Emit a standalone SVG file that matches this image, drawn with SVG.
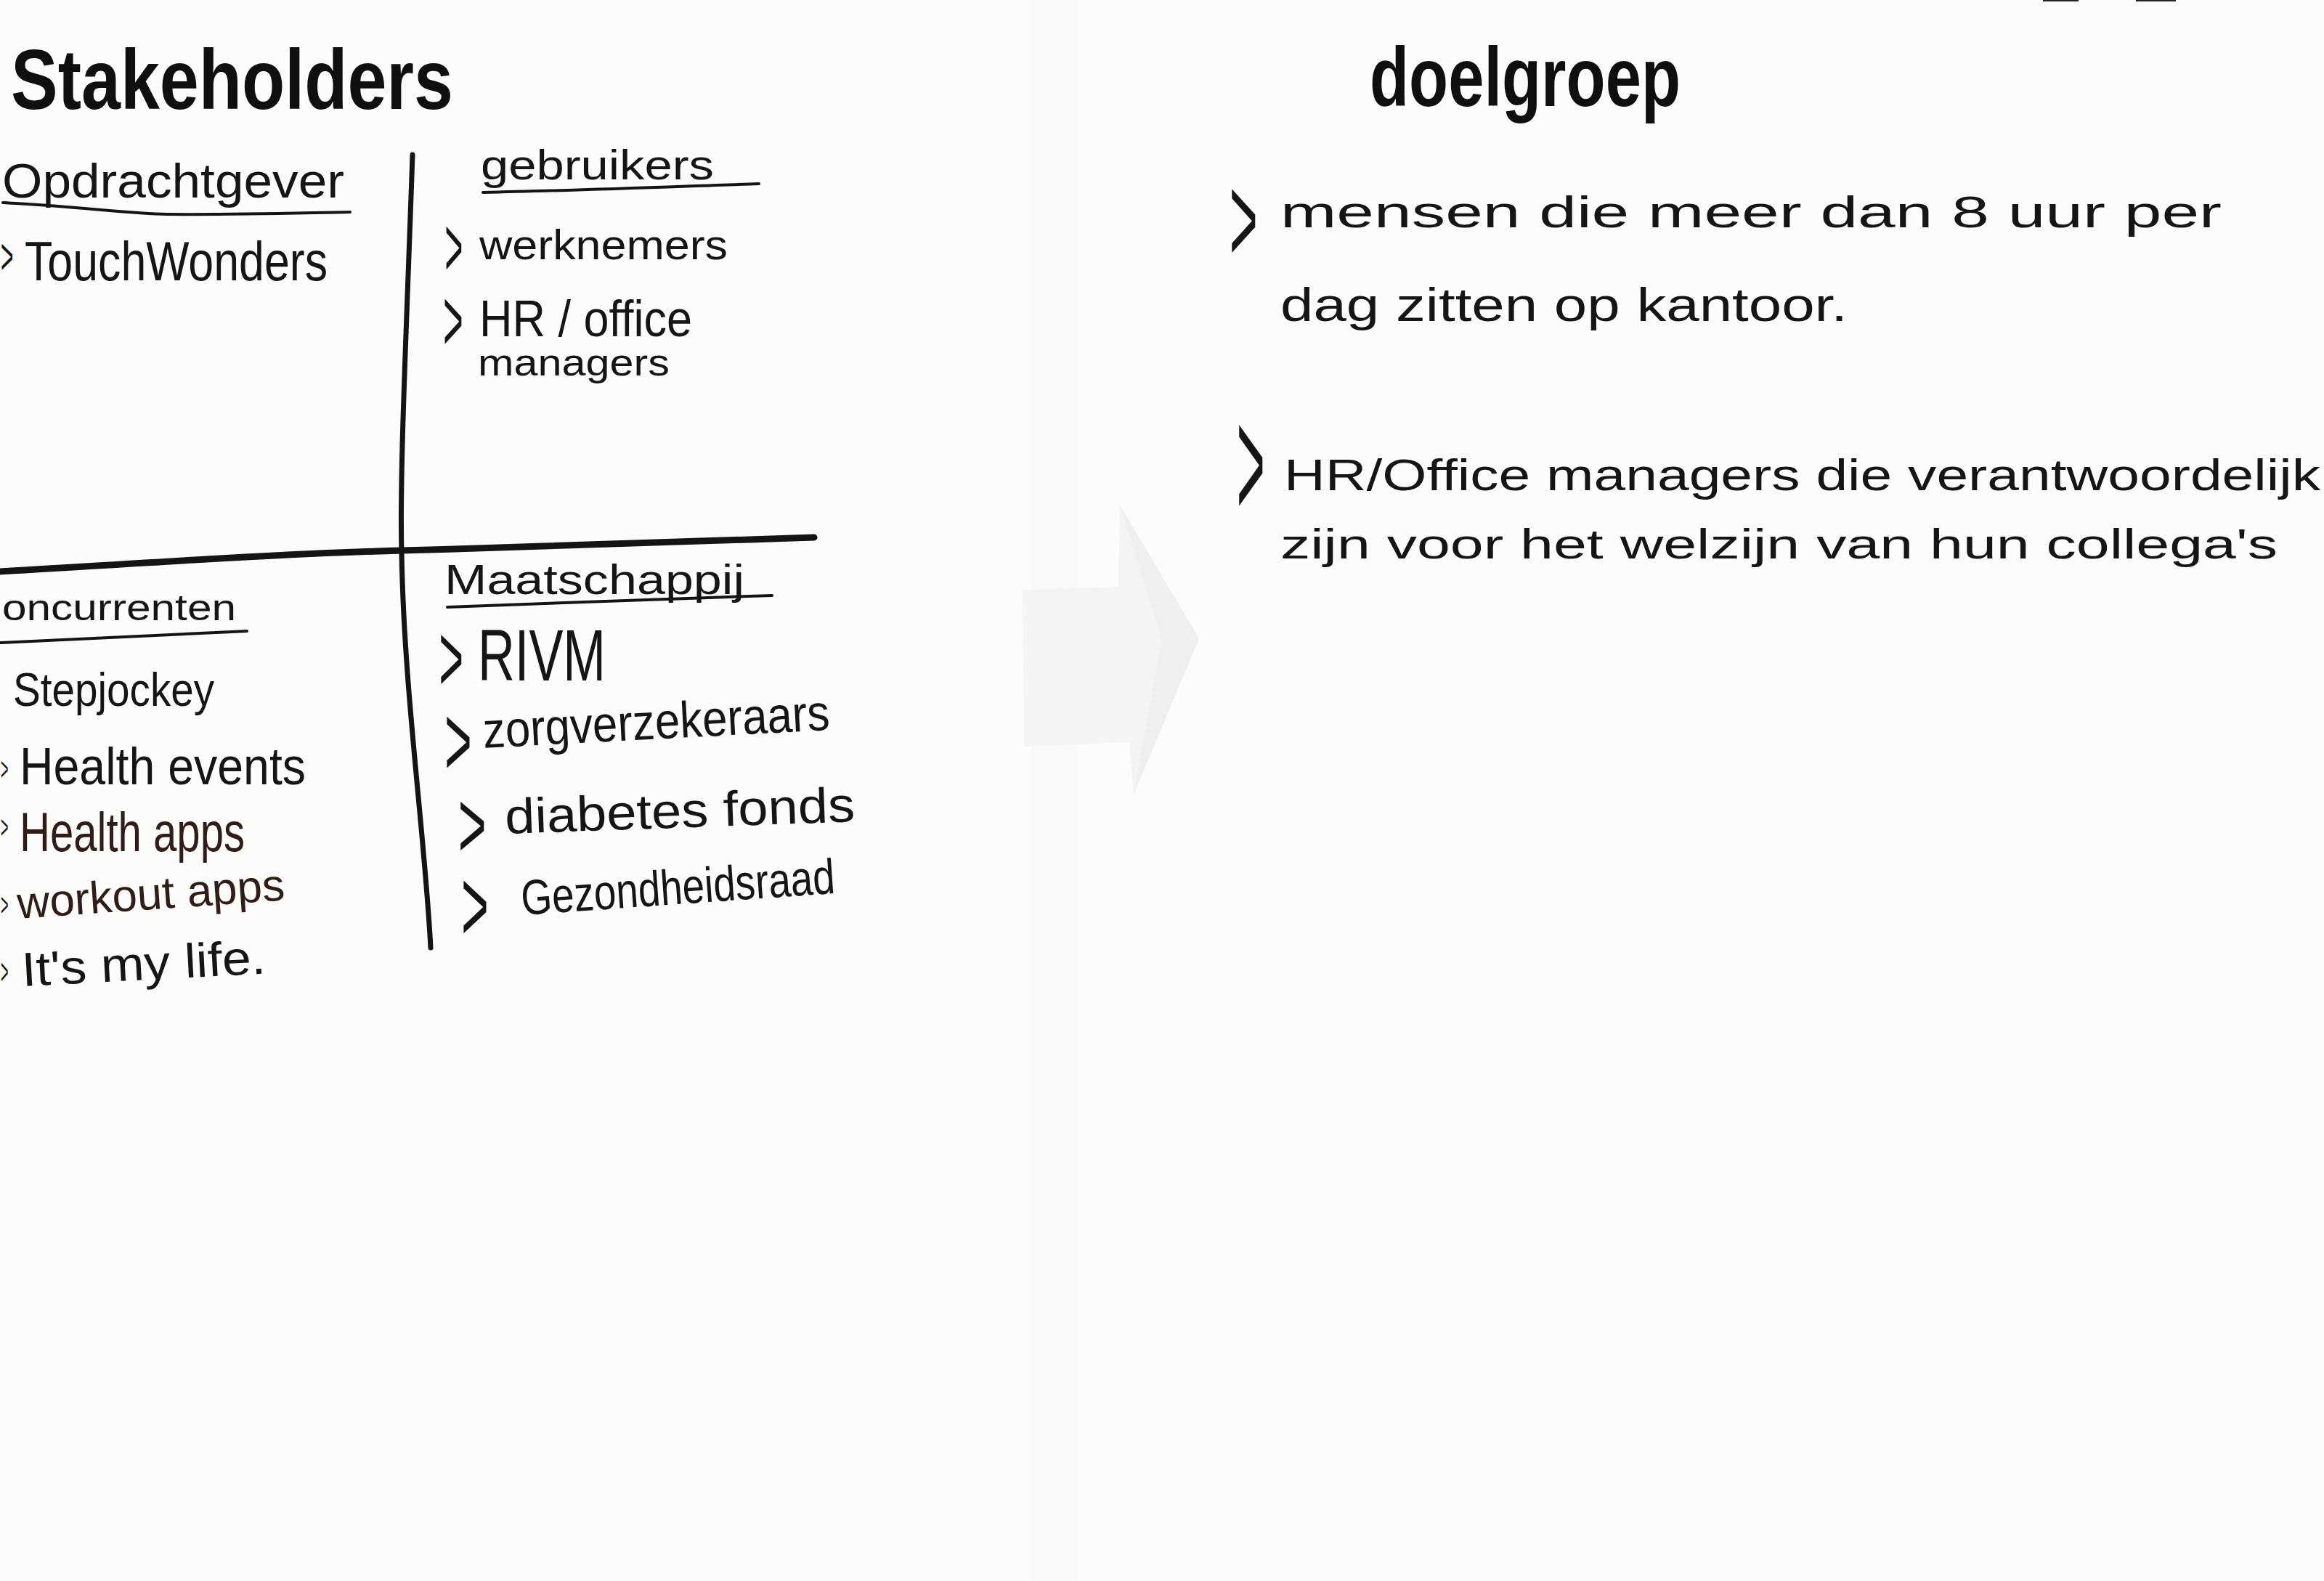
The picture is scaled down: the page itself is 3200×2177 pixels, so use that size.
<svg xmlns="http://www.w3.org/2000/svg" width="3200" height="2177" viewBox="0 0 3200 2177">
  <style>
    .hw { font-family: "Liberation Sans", Arial, sans-serif; fill: #151515; }
    .head { font-weight: bold; fill: #0f0f0f; }
    .brown { fill: #2f1d17; }
    .chev { font-family: "Liberation Sans", Arial, sans-serif; font-size: 50px; fill: #151515; }
    .rule { fill: none; stroke: #141414; stroke-linecap: round; stroke-linejoin: round; }
  </style>

  <!-- paper -->
  <rect x="0" y="0" width="3200" height="2177" fill="#fcfcfb"/>
  <!-- faint gutter and pressed-through arrow from the next sheet -->
  <rect x="1420" y="0" width="66" height="2177" fill="#f6f6f5" opacity="0.5"/>
  <polygon points="1408,812 1540,808 1542,696 1651,879 1561,1094 1555,1022 1410,1028" fill="#f4f4f3"/>
  <polygon points="1542,696 1651,879 1561,1094 1600,880" fill="#ececeb" opacity="0.7"/>
  <rect x="2813" y="0" width="49" height="2" fill="#222"/>
  <rect x="2941" y="0" width="55" height="2" fill="#222"/>

  <!-- quadrant lines and underlines -->
  <g id="grid-lines">
    <path class="rule" stroke-width="7" d="M568,213 C560,450 550,650 553,760 C556,950 585,1150 593,1305"/>
    <path class="rule" stroke-width="9" d="M0,787 C200,775 400,762 553,758 C750,753 950,744 1121,740"/>
    <path class="rule" stroke-width="4" d="M4,279 C100,284 180,294 230,295 C330,296 420,293 482,292"/>
    <path class="rule" stroke-width="4" d="M665,265 C800,262 950,256 1045,253"/>
    <path class="rule" stroke-width="4" d="M0,885 C120,880 240,873 340,869"/>
    <path class="rule" stroke-width="4" d="M616,836 C760,831 920,824 1063,820"/>
  </g>

  <text id="title-stakeholders" class="hw head" x="15" y="150" font-size="116" textLength="609" lengthAdjust="spacingAndGlyphs">Stakeholders</text>

  <g id="opdrachtgever">
    <text class="hw" x="3" y="272" font-size="66" textLength="471" lengthAdjust="spacingAndGlyphs">Opdrachtgever</text>
    <text class="chev" transform="translate(1,377) scale(0.6,1.4)">&gt;</text>
    <text class="hw" x="34" y="386" font-size="76" textLength="417" lengthAdjust="spacingAndGlyphs">TouchWonders</text>
  </g>

  <g id="gebruikers">
    <text class="hw" x="662" y="247" font-size="58" textLength="321" lengthAdjust="spacingAndGlyphs">gebruikers</text>
    <text class="chev" transform="translate(612.4,379.9) scale(0.85,2.34)">&gt;</text>
    <text class="hw" x="660" y="357" font-size="58" textLength="342" lengthAdjust="spacingAndGlyphs">werknemers</text>
    <text class="chev" transform="translate(610.2,483.4) scale(0.94,2.43)">&gt;</text>
    <text class="hw" x="660" y="463" font-size="70" textLength="293" lengthAdjust="spacingAndGlyphs">HR / office</text>
    <text class="hw" x="658" y="517" font-size="52" textLength="264" lengthAdjust="spacingAndGlyphs">managers</text>
  </g>

  <g id="concurrenten">
    <text class="hw" x="3" y="854" font-size="50" textLength="322" lengthAdjust="spacingAndGlyphs">oncurrenten</text>
    <text class="hw" x="18" y="972" font-size="64" textLength="277" lengthAdjust="spacingAndGlyphs">Stepjockey</text>
    <text class="chev" transform="translate(1,1074) scale(0.36,0.9)">&gt;</text>
    <text class="hw" x="27" y="1080" font-size="72" textLength="394" lengthAdjust="spacingAndGlyphs">Health events</text>
    <text class="chev brown" transform="translate(1,1154) scale(0.36,0.9)">&gt;</text>
    <text class="hw brown" x="27" y="1172" font-size="76" textLength="310" lengthAdjust="spacingAndGlyphs">Health apps</text>
    <text class="chev brown" transform="translate(1,1261) scale(0.36,0.9)">&gt;</text>
    <text class="hw brown" x="25" y="1265" font-size="62" textLength="369" lengthAdjust="spacingAndGlyphs" transform="rotate(-4 25 1265)">workout apps</text>
    <text class="chev" transform="translate(1,1355) scale(0.36,1.0)">&gt;</text>
    <text class="hw" x="31" y="1358" font-size="66" textLength="336" lengthAdjust="spacingAndGlyphs" transform="rotate(-3 31 1358)">It's my life.</text>
  </g>

  <g id="maatschappij">
    <text class="hw" x="612" y="818" font-size="58" textLength="413" lengthAdjust="spacingAndGlyphs">Maatschappij</text>
    <text class="chev" transform="translate(604.6,951.7) scale(1.15,2.68)">&gt;</text>
    <text class="hw" x="658" y="937" font-size="100" textLength="176" lengthAdjust="spacingAndGlyphs">RIVM</text>
    <text class="chev" transform="translate(612.2,1068.2) scale(1.28,2.77)">&gt;</text>
    <text class="hw" x="666" y="1030" font-size="70" textLength="478" lengthAdjust="spacingAndGlyphs" transform="rotate(-3 666 1030)">zorgverzekeraars</text>
    <text class="chev" transform="translate(631,1180.5) scale(1.32,2.64)">&gt;</text>
    <text class="hw" x="696" y="1148" font-size="68" textLength="482" lengthAdjust="spacingAndGlyphs" transform="rotate(-2 696 1148)">diabetes fonds</text>
    <text class="chev" transform="translate(635.2,1295.7) scale(1.28,2.85)">&gt;</text>
    <text class="hw" x="719" y="1260" font-size="68" textLength="433" lengthAdjust="spacingAndGlyphs" transform="rotate(-4 719 1260)">Gezondheidsraad</text>
  </g>

  <g id="doelgroep">
    <text class="hw head" x="1886" y="146" font-size="115" textLength="428" lengthAdjust="spacingAndGlyphs">doelgroep</text>
    <text class="chev" transform="translate(1693,361) scale(1.32,3.45)">&gt;</text>
    <text class="hw" x="1763" y="313" font-size="62" textLength="1296" lengthAdjust="spacingAndGlyphs">mensen die meer dan 8 uur per</text>
    <text class="hw" x="1763" y="442" font-size="64" textLength="781" lengthAdjust="spacingAndGlyphs">dag zitten op kantoor.</text>
    <text class="chev" transform="translate(1703,713) scale(1.32,4.38)">&gt;</text>
    <text class="hw" x="1768" y="675" font-size="62" textLength="1427" lengthAdjust="spacingAndGlyphs">HR/Office managers die verantwoordelijk</text>
    <text class="hw" x="1763" y="769" font-size="58" textLength="1373" lengthAdjust="spacingAndGlyphs">zijn voor het welzijn van hun collega's</text>
  </g>
</svg>
